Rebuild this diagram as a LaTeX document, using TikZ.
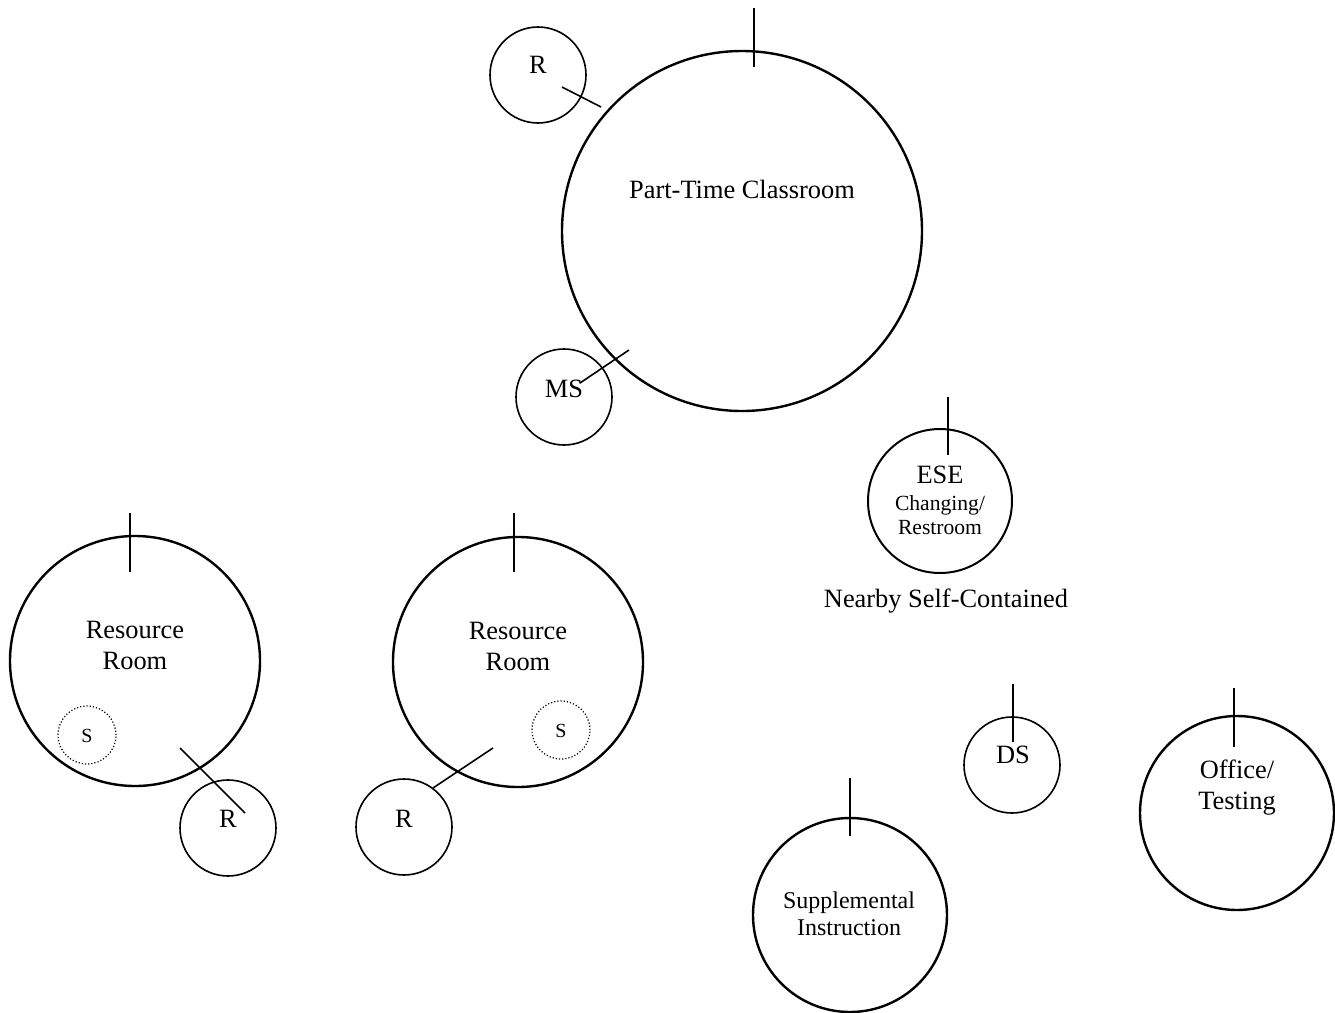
\documentclass[tikz,border=0pt]{standalone}
\usepackage{fontspec}
\setmainfont{Liberation Serif}

\tikzset{
  room/.style={circle, draw, line width=1.2pt, inner sep=0pt},
  nook/.style={circle, draw, line width=0.8pt, inner sep=0pt, minimum size=48pt},
  stall/.style={circle, draw, densely dotted, line width=0.6pt, inner sep=0pt, minimum size=29pt},
  door/.style={line width=0.9pt},
  link/.style={line width=0.8pt},
  lbl/.style={inner sep=0pt, align=center, font=\fontsize{13.2}{15.5}\selectfont},
  sublbl/.style={inner sep=0pt, align=center, font=\fontsize{12}{13.5}\selectfont},
  tinylbl/.style={inner sep=0pt, align=center, font=\fontsize{10.8}{12}\selectfont},
}

\begin{document}
\begin{tikzpicture}[x=0.5pt,y=-0.5pt]
  \useasboundingbox (0,0) rectangle (1335,1013);

  % part-time classroom with its side rooms
  \node[room, minimum size=180pt] (ptc) at (742,231) {};
  \node[nook] (ptcr) at (538,75) {};
  \node[nook] (ptcms) at (564,397) {};
  \node[lbl, anchor=base] (ptctxt) at (742,198) {Part-Time Classroom};
  \node[lbl, anchor=base] (ptcrtxt) at (538,73) {R};
  \node[lbl, anchor=base] (ptcmstxt) at (564,397) {MS};

  \coordinate (ptcdoor) at (754,8);
  \draw[door] (ptcdoor) -- (754,67);
  \coordinate (ra) at (562,87);
  \coordinate (rb) at (601,107);
  \draw[link] (ra) -- (rb);
  \coordinate (msa) at (580,383);
  \coordinate (msb) at (629,350);
  \draw[link] (msa) -- (msb);

  % ESE changing / restroom
  \node[room, minimum size=72pt, line width=1pt] (ese) at (940,501) {};
  \node[lbl, anchor=base] (esetxt) at (940,483) {ESE};
  \node[tinylbl] (esesub) at (940,515) {Changing/\\Restroom};
  \node[lbl, anchor=base] (nearby) at (946,607) {Nearby Self-Contained};
  \coordinate (esedoor) at (948,397);
  \draw[door] (esedoor) -- (948,455);

  % resource room, left
  \node[room, minimum size=125pt] (rrl) at (135,661) {};
  \node[lbl] (rrltxt) at (135,645) {Resource\\Room};
  \node[stall] (rrls) at (87,735) {};
  \node[tinylbl, font=\fontsize{10}{12}\selectfont, anchor=base] (rrlstxt) at (87,742) {S};
  \node[nook] (rrlr) at (228,828) {};
  \node[lbl, anchor=base] (rrlrtxt) at (228,827) {R};
  \coordinate (rrldoor) at (130,513);
  \draw[door] (rrldoor) -- (130,572);
  \coordinate (la) at (180,748);
  \coordinate (lb) at (245,813);
  \draw[link] (la) -- (lb);

  % resource room, right
  \node[room, minimum size=125pt] (rrr) at (518,662) {};
  \node[lbl] (rrrtxt) at (518,646) {Resource\\Room};
  \node[stall] (rrrs) at (561,730) {};
  \node[tinylbl, font=\fontsize{10}{12}\selectfont, anchor=base] (rrrstxt) at (561,737) {S};
  \node[nook] (rrrr) at (404,827) {};
  \node[lbl, anchor=base] (rrrrtxt) at (404,827) {R};
  \coordinate (rrrdoor) at (514,513);
  \draw[door] (rrrdoor) -- (514,572);
  \coordinate (qa) at (433,788);
  \coordinate (qb) at (493,748);
  \draw[link] (qa) -- (qb);

  % DS
  \node[nook] (ds) at (1012,765) {};
  \node[lbl, anchor=base] (dstxt) at (1013,763) {DS};
  \coordinate (dsdoor) at (1013,684);
  \draw[door] (dsdoor) -- (1013,742);

  % office / testing
  \node[room, minimum size=97pt] (off) at (1237,813) {};
  \node[lbl] (offtxt) at (1237,788) {Office/\\Testing};
  \coordinate (offdoor) at (1234,688);
  \draw[door] (offdoor) -- (1234,747);

  % supplemental instruction
  \node[room, minimum size=97pt] (sup) at (850,915) {};
  \node[sublbl] (suptxt) at (849,914) {Supplemental\\Instruction};
  \coordinate (supdoor) at (850,778);
  \draw[door] (supdoor) -- (850,836);
\end{tikzpicture}
\end{document}
